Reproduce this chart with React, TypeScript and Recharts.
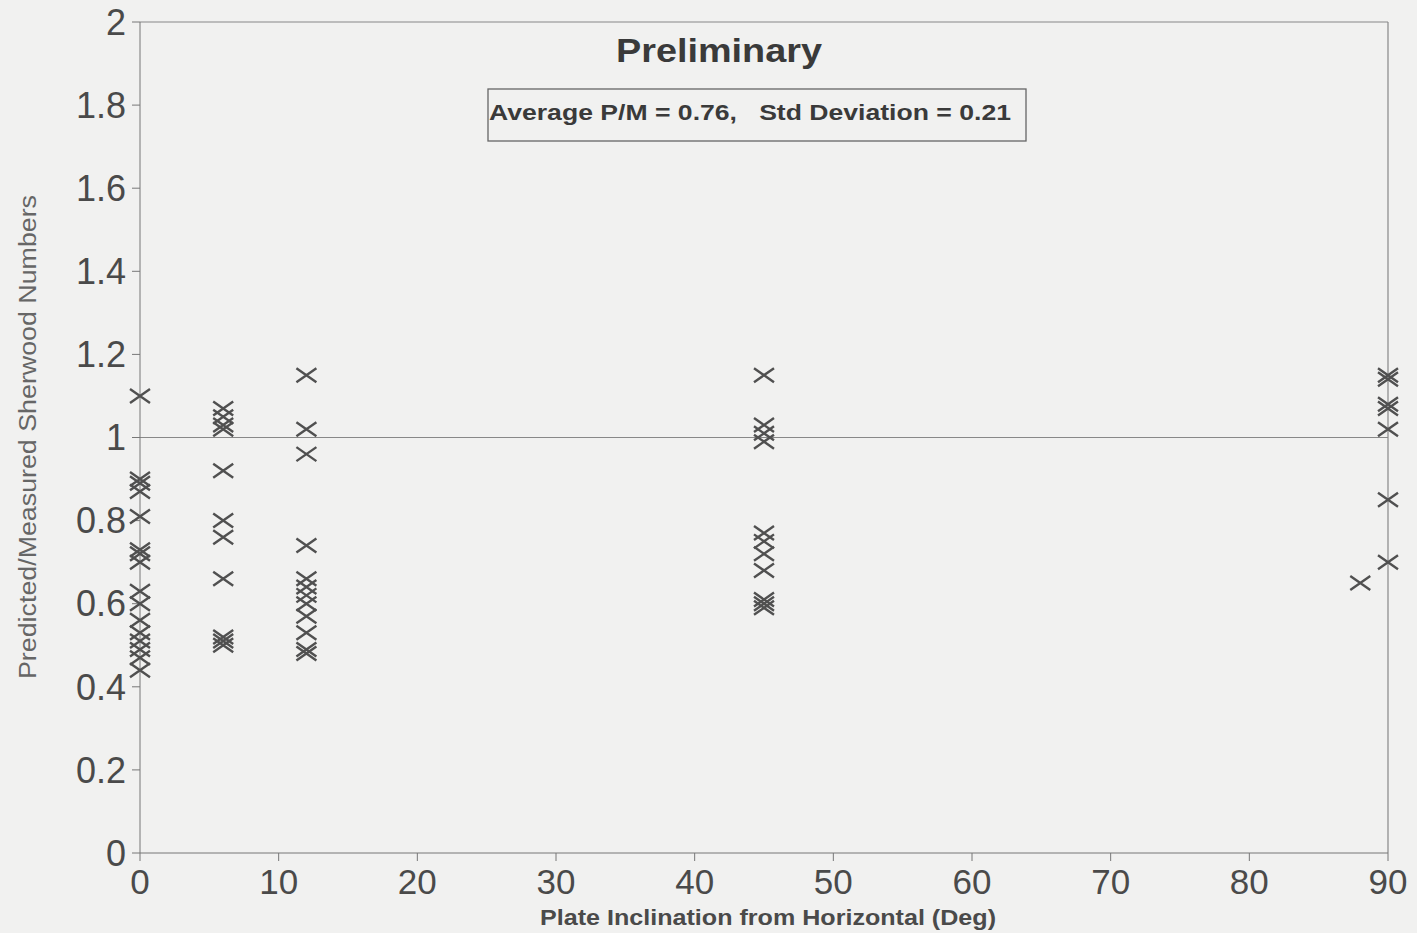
import {
  ScatterChart,
  Scatter,
  XAxis,
  YAxis,
  ReferenceLine,
} from "recharts";

// plate inclination groups (deg) and P/M ratios
const angles0 = [0];
const ratios0 = [1.1, 0.9, 0.89, 0.87, 0.81, 0.73, 0.72, 0.7, 0.63, 0.6, 0.56, 0.53, 0.51, 0.49, 0.47, 0.44];
const angles6 = [6];
const ratios6 = [1.07, 1.05, 1.03, 1.02, 0.92, 0.8, 0.76, 0.66, 0.52, 0.51, 0.5];
const angles12 = [12];
const ratios12 = [1.15, 1.02, 0.96, 0.74, 0.66, 0.64, 0.62, 0.6, 0.57, 0.53, 0.49, 0.48];
const angles45 = [45];
const ratios45 = [1.15, 1.03, 1.01, 0.99, 0.77, 0.75, 0.72, 0.68, 0.61, 0.6, 0.59];
const angles88 = [88];
const ratios88 = [0.65];
const angles90 = [90];
const ratios90 = [1.15, 1.14, 1.08, 1.07, 1.02, 0.85, 0.7];

const xTicks = [0, 10, 20, 30, 40, 50, 60, 70, 80, 90];
const yTicks = [0, 0.2, 0.4, 0.6, 0.8, 1, 1.2, 1.4, 1.6, 1.8, 2];

const subtitle = "Preliminary";
const statsText = "Average P/M = 0.76,   Std Deviation = 0.21";
const xTitle = "Plate Inclination from Horizontal (Deg)";
const yTitle = "Predicted/Measured Sherwood Numbers";

const groups: [number[], number[]][] = [
  [angles0, ratios0],
  [angles6, ratios6],
  [angles12, ratios12],
  [angles45, ratios45],
  [angles88, ratios88],
  [angles90, ratios90],
];
const points = groups.flatMap(([a, rs]) => rs.map((r) => ({ x: a[0], y: r })));

const INK = "#4a4a4a";
const sans = "'Liberation Sans', Arial, sans-serif";

const XMark = (props: any) => {
  const { cx, cy } = props;
  if (cx == null || cy == null) return null;
  return (
    <path
      d={`M${cx - 10},${cy - 7}L${cx + 10},${cy + 7}M${cx - 10},${cy + 7}L${cx + 10},${cy - 7}`}
      stroke="#505050"
      strokeWidth={2.4}
      fill="none"
    />
  );
};

export default function App() {
  return (
    <div style={{ position: "absolute", left: 0, top: 0, width: 1417, height: 933, background: "#f1f1f0" }}>
      <ScatterChart width={1417} height={933} margin={{ top: 22, right: 29, bottom: 0, left: 0 }}>
        <XAxis
          type="number"
          dataKey="x"
          domain={[0, 90]}
          ticks={xTicks}
          height={80}
          interval={0}
          stroke="#777"
          tickSize={8}
          tickMargin={8}
          tick={{ fill: INK, fontSize: 35, fontFamily: sans }}
          label={{
            content: () => (
              <text
                x={768}
                y={925}
                textAnchor="middle"
                fill={INK}
                fontSize={22}
                fontWeight="bold"
                fontFamily={sans}
                textLength={456}
                lengthAdjust="spacingAndGlyphs"
              >
                {xTitle}
              </text>
            ),
          }}
        />
        <YAxis
          type="number"
          dataKey="y"
          domain={[0, 2]}
          ticks={yTicks}
          width={140}
          interval={0}
          stroke="#777"
          tickSize={8}
          tickMargin={6}
          tickFormatter={(v: number) => String(Number(v.toFixed(1)))}
          tick={{ fill: INK, fontSize: 36, fontFamily: sans }}
          label={{
            content: () => (
              <text
                x={36}
                y={437}
                transform="rotate(-90 36 437)"
                textAnchor="middle"
                fill="#666"
                fontSize={23}
                fontFamily={sans}
                textLength={484}
                lengthAdjust="spacingAndGlyphs"
              >
                {yTitle}
              </text>
            ),
          }}
        />
        <ReferenceLine x={90} stroke="#888" strokeWidth={1.2} />
        <ReferenceLine
          y={2}
          stroke="#888"
          strokeWidth={1.2}
          label={{
            content: () => (
              <g>
                <text
                  x={719}
                  y={62}
                  textAnchor="middle"
                  fill="#3a3a3a"
                  fontSize={34}
                  fontWeight="bold"
                  fontFamily={sans}
                  textLength={206}
                  lengthAdjust="spacingAndGlyphs"
                >
                  {subtitle}
                </text>
                <rect x={488} y={89} width={538} height={52} fill="none" stroke="#666" strokeWidth={1.3} />
                <text
                  x={750}
                  y={120}
                  textAnchor="middle"
                  fill="#3a3a3a"
                  fontSize={22}
                  fontWeight="bold"
                  fontFamily={sans}
                  textLength={522}
                  lengthAdjust="spacingAndGlyphs"
                  style={{ whiteSpace: "pre" }}
                >
                  {statsText}
                </text>
              </g>
            ),
          }}
        />
        <ReferenceLine y={1} stroke="#888" strokeWidth={1.2} />
        <Scatter data={points} shape={XMark} isAnimationActive={false} />
      </ScatterChart>
    </div>
  );
}
